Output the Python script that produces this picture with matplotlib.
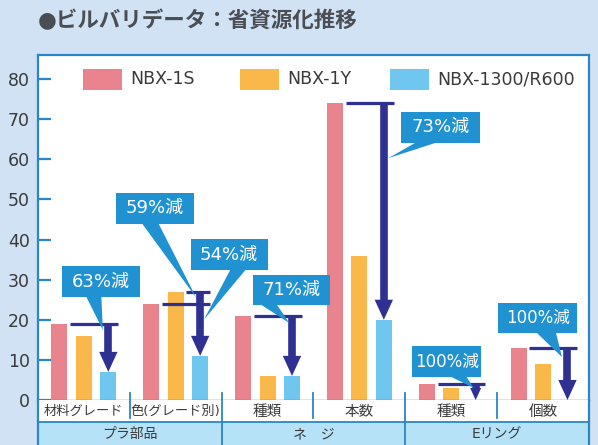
import matplotlib.pyplot as plt
from matplotlib.patches import Rectangle, Polygon
import numpy as np

plt.rcParams['font.family'] = ['DejaVu Sans', 'Noto Sans CJK JP']

# data
categories = ['材料グレード', '色(グレード別)', '種類', '本数', '種類', '個数']
groups = ['プラ部品', 'ネ　ジ', 'Eリング']
group_members = [(0, 1), (2, 3), (4, 5)]
series_names = ['NBX-1S', 'NBX-1Y', 'NBX-1300/R600']
nbx_1s = [19, 24, 21, 74, 4, 13]
nbx_1y = [16, 27, 6, 36, 3, 9]
nbx_1300 = [7, 11, 6, 20, 0, 0]
yticks = [0, 10, 20, 30, 40, 50, 60, 70, 80]

# callouts: (category, series the reduction starts from, label)
callouts = [
    (0, 0, '63%減'),
    (1, 1, '59%減'),
    (1, 0, '54%減'),
    (2, 0, '71%減'),
    (3, 0, '73%減'),
    (4, 0, '100%減'),
    (5, 0, '100%減'),
]
# callout layout: box (x0, x1, y0, y1), tail base (xa, xb), tail tip (dx from arrow, y)
callout_layout = [
    ((-0.239, 0.609, 25.7, 33.4), (0.02, 0.19), (-0.06, 17.5)),
    ((0.348, 1.196, 43.9, 51.6), (0.627, 0.808), (-0.04, 25.4)),
    ((1.163, 2.0, 32.4, 40.1), (1.60, 1.77), (0.04, 20.0)),
    ((1.837, 2.685, 23.7, 31.2), (1.913, 2.094), (-0.03, 19.2)),
    ((3.457, 4.315, 64.1, 71.8), (3.63, 3.87), (0.05, 60.3)),
    ((3.576, 4.326, 5.7, 13.5), (3.978, 4.159), (-0.02, 3.0)),
    ((4.511, 5.37, 16.7, 24.2), (4.92, 5.138), (-0.06, 10.7)),
]

colors = ['#e9838e', '#fbb84a', '#6fc7ef']
navy = '#2e3192'
callout_blue = '#2092d2'
frame_blue = '#2a86c8'
bg = '#d0e2f3'
group_fill = '#b6e2f8'
text_gray = '#3a3a3a'

series = [nbx_1s, nbx_1y, nbx_1300]
x = np.arange(len(categories))
offset = 0.266
bw = 0.174

fig = plt.figure(figsize=(5.98, 4.45), dpi=100, facecolor=bg)
ax = fig.add_axes([0.0635, 0.1011, 0.9214, 0.7753])
ax.set_xlim(-0.5, 5.5)
ax.set_ylim(0, 86)

for i, vals in enumerate(series):
    ax.bar(x + (i - 1) * offset, vals, width=bw, color=colors[i], zorder=2)

ax.set_yticks(yticks)
ax.set_xticks([])
ax.tick_params(axis='y', direction='in', length=9.5, width=1.6, color=frame_blue,
               labelsize=12.5, labelcolor=text_gray, pad=6)
for side in ['left', 'top', 'right']:
    ax.spines[side].set_color(frame_blue)
    ax.spines[side].set_linewidth(1.6)
ax.spines['bottom'].set_color(frame_blue)
ax.spines['bottom'].set_linewidth(1.0)

# reduction lines and arrows
for cat in range(len(categories)):
    refs = [c for c in callouts if c[0] == cat]
    levels = [series[s][cat] for _, s, _ in refs]
    ax_x = x[cat] + offset
    end = ax_x + bw / 2 + 0.02
    for _, s, _ in refs:
        start = x[cat] + (s - 1) * offset + bw / 2 + 0.03
        ax.hlines(series[s][cat], start, end, color=navy, lw=2.3, zorder=3)
    top = max(levels)
    bottom = nbx_1300[cat]
    head_h = min(5.0, (top - bottom) * 0.75)
    head_w = 0.2 * head_h / 5.0
    ax.plot([ax_x, ax_x], [top, bottom + head_h], color=navy, lw=5.5,
            solid_capstyle='butt', zorder=3)
    ax.add_patch(Polygon([(ax_x - head_w / 2, bottom + head_h),
                          (ax_x + head_w / 2, bottom + head_h),
                          (ax_x, bottom)], closed=True, color=navy, zorder=3, lw=0))

# callouts
for (cat, s, label), (box, base, tip) in zip(callouts, callout_layout):
    x0, x1, y0, y1 = box
    tip_x = x[cat] + offset + tip[0]
    ax.add_patch(Polygon([(base[0], y0 + 0.3), (tip_x, tip[1]), (base[1], y0 + 0.3)],
                         closed=True, color=callout_blue, lw=0, zorder=4))
    ax.add_patch(Rectangle((x0, y0), x1 - x0, y1 - y0, color=callout_blue, lw=0, zorder=4))
    fs = 12 if len(label) > 4 else 13
    ax.text((x0 + x1) / 2, (y0 + y1) / 2, label, color='white', fontsize=fs,
            ha='center', va='center', zorder=5)

# legend
legend_x = [0.0817, 0.3666, 0.6388]
for lx, name, c in zip(legend_x, series_names, colors):
    ax.add_patch(Rectangle((lx, 0.8986), 0.0708, 0.0609, transform=ax.transAxes,
                           color=c, lw=0, zorder=4))
    ax.text(lx + 0.0708 + 0.0145, 0.929, name, transform=ax.transAxes, fontsize=12.5,
            color=text_gray, ha='left', va='center')

# category / group table under the axis
tab = fig.add_axes([0.0635, 0.0, 0.9214, 0.1011])
tab.set_xlim(-0.5, 5.5)
tab.set_ylim(0, 1)
tab.set_xticks([])
tab.set_yticks([])
tab.set_facecolor('white')
for side in ['top', 'bottom']:
    tab.spines[side].set_visible(False)
for side in ['left', 'right']:
    tab.spines[side].set_color(frame_blue)
    tab.spines[side].set_linewidth(1.6)
tab.add_patch(Rectangle((-0.5, 0), 6, 0.511, color=group_fill, lw=0))
tab.axhline(0.511, color=frame_blue, lw=1.3)
for k, (a, b) in enumerate(group_members):
    if k > 0:
        tab.plot([a - 0.5, a - 0.5], [0, 1.16], color=frame_blue, lw=1.3, clip_on=False, zorder=5)
    tab.plot([b - 0.5, b - 0.5], [0.6, 1.16], color=frame_blue, lw=1.3, clip_on=False, zorder=5)
    tab.text((a + b) / 2, 0.245, groups[k], ha='center', va='center', fontsize=10,
             color=text_gray)
for i, cat in enumerate(categories):
    fs = 9.5 if i < 2 else 10.5
    tab.text(x[i], 0.755, cat, ha='center', va='center', fontsize=fs, color=text_gray)

fig.text(0.0635, 0.953, '●ビルバリデータ：省資源化推移', fontsize=15.5, fontweight='bold',
         color='#4a4e54', ha='left', va='center')

fig.savefig('out.png', dpi=100, facecolor=bg)
